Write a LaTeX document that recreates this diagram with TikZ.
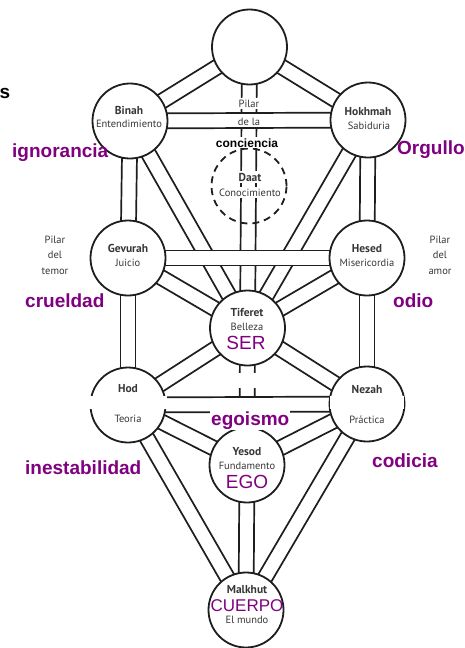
\documentclass[tikz,border=0pt]{standalone}
\usepackage{fontspec}
\setmainfont{Liberation Sans}
\newfontfamily\ptsans{PT Sans}
\usetikzlibrary{calc}
\pgfdeclarelayer{back}
\pgfdeclarelayer{bg}
\pgfsetlayers{back,bg,main}
\definecolor{purp}{RGB}{128,0,128}
\definecolor{ink}{RGB}{30,30,30}
\definecolor{txt}{RGB}{55,55,55}
\tikzset{
 sef/.style={circle, draw=ink, line width=1.8pt, fill=white, minimum size=75pt, inner sep=0pt},
 daatc/.style={circle, draw=ink, line width=1.8pt, dash pattern=on 7pt off 5pt, minimum size=75pt, inner sep=0pt},
 chanline/.style={draw=ink, line width=1.7pt},
 nm/.style={font=\ptsans\bfseries\fontsize{11.5}{13}\selectfont, text=txt, inner sep=0pt, anchor=base},
 sub/.style={font=\ptsans\fontsize{10.5}{12}\selectfont, text=txt, inner sep=0pt, anchor=base},
 vice/.style={font=\bfseries\fontsize{19}{22}\selectfont, text=purp, inner sep=0pt, anchor=base west},
 big/.style={font=\fontsize{19}{22}\selectfont, text=purp, inner sep=0pt, anchor=base},
 wbox/.style={fill=white, inner sep=1.5pt},
}
\newcommand\chan[2]{%
 \draw[chanline] ($(#1)!7.5pt!90:(#2)$) -- ($(#2)!7.5pt!-90:(#1)$);
 \draw[chanline] ($(#1)!7.5pt!-90:(#2)$) -- ($(#2)!7.5pt!90:(#1)$);}
\newcommand\hchan[2]{%
 \fill[white] ($(#1)!7.5pt!90:(#2)$) -- ($(#2)!7.5pt!-90:(#1)$) -- ($(#2)!7.5pt!90:(#1)$) -- ($(#1)!7.5pt!-90:(#2)$) -- cycle;
 \chan{#1}{#2}}
\begin{document}
\begin{tikzpicture}[x=1pt,y=-1pt]
\begin{pgfonlayer}{back}
\fill[white] (0,0) rectangle (465,648);
\end{pgfonlayer}
\useasboundingbox (0,0) rectangle (465,648);
% sefirot
\node[sef] (ke) at (249.5,47) {};
\node[sef] (bi) at (130,121) {};
\node[sef] (ho) at (368,120) {};
\node[daatc] (da) at (249,186) {};
\node[sef] (ge) at (128,258) {};
\node[sef] (he) at (367,258) {};
\node[sef] (ti) at (247.5,328) {};
\node[sef] (hod) at (128,405) {};
\node[sef] (ne) at (367,404) {};
\node[sef] (ye) at (247,465) {};
\node[sef] (ma) at (246,610) {};
% channels
\begin{pgfonlayer}{bg}
\chan{ke}{bi}\chan{ke}{ho}\chan{ke}{ti}
\chan{bi}{ge}\chan{ho}{he}\chan{bi}{ti}\chan{ho}{ti}
\chan{ge}{ti}\chan{he}{ti}
\chan{ge}{hod}\chan{he}{ne}\chan{ti}{hod}\chan{ti}{ne}
\chan{ti}{ye}\chan{hod}{ye}\chan{ne}{ye}
\chan{hod}{ma}\chan{ne}{ma}\chan{ye}{ma}
\hchan{bi}{ho}\hchan{ge}{he}\hchan{hod}{ne}
\end{pgfonlayer}
% erased patches
\fill[white] (89,395.5) rectangle (167,408.5);
\fill[white] (329.5,395.5) rectangle (404,408.5);
\fill[white] (230,373) rectangle (265,388);
% labels
\node[nm] (tbi) at (129,114) {Binah};
\node[sub] (tbi2) at (129,127) {Entendimiento};
\node[nm] (tho) at (368,115) {Hokhmah};
\node[sub] (tho2) at (369,129) {Sabiduria};
\node[sub,wbox] (pil1) at (249,107) {Pilar};
\node[sub,wbox] (pil2) at (249,125) {de la};
\node[font=\bfseries\fontsize{12}{14}\selectfont, anchor=base, fill=white, inner sep=1pt] (conc) at (247,147) {conciencia};
\node[nm,wbox] (tda) at (250,181) {Daat};
\node[sub,wbox] (tda2) at (250,196) {Conocimiento};
\node[nm] (tge) at (128,252) {Gevurah};
\node[sub] (tge2) at (128,266) {Juicio};
\node[nm] (the) at (367,252) {Hesed};
\node[sub] (the2) at (367,266) {Misericordia};
\node[sub] (pl1) at (55,243) {Pilar};
\node[sub] (pl2) at (55,258) {del};
\node[sub] (pl3) at (55,274) {temor};
\node[sub] (pr1) at (440,243) {Pilar};
\node[sub] (pr2) at (440,258) {del};
\node[sub] (pr3) at (440,274) {amor};
\node[nm] (tti) at (247,316) {Tiferet};
\node[sub] (tti2) at (247,330) {Belleza};
\node[big] (ser) at (246,349) {SER};
\node[nm] (thod) at (128,392) {Hod};
\node[sub] (thod2) at (128,422) {Teoria};
\node[nm] (tne) at (367,393) {Nezah};
\node[sub] (tne2) at (367,423) {Práctica};
\node[nm] (tye) at (247,455) {Yesod};
\node[sub] (tye2) at (247,469) {Fundamento};
\node[big] (ego) at (247,488) {EGO};
\node[nm] (tma) at (247,593) {Malkhut};
\node[big,font=\fontsize{17}{20}\selectfont] (cue) at (247,611) {CUERPO};
\node[sub] (tma2) at (247,623) {El mundo};
% vices
\node[vice] (v1) at (12,157) {ignorancia};
\node[vice] (v2) at (397,154) {Orgullo};
\node[vice] (v3) at (25,307) {crueldad};
\node[vice] (v4) at (393,307) {odio};
\node[vice,fill=white,inner sep=1pt] (v5) at (210,425) {egoismo};
\node[vice] (v6) at (25,474) {inestabilidad};
\node[vice] (v7) at (372,467) {codicia};
\node[font=\bfseries\fontsize{19}{22}\selectfont, anchor=base west, inner sep=0pt] (s) at (-0.5,98) {s};
\end{tikzpicture}
\end{document}
